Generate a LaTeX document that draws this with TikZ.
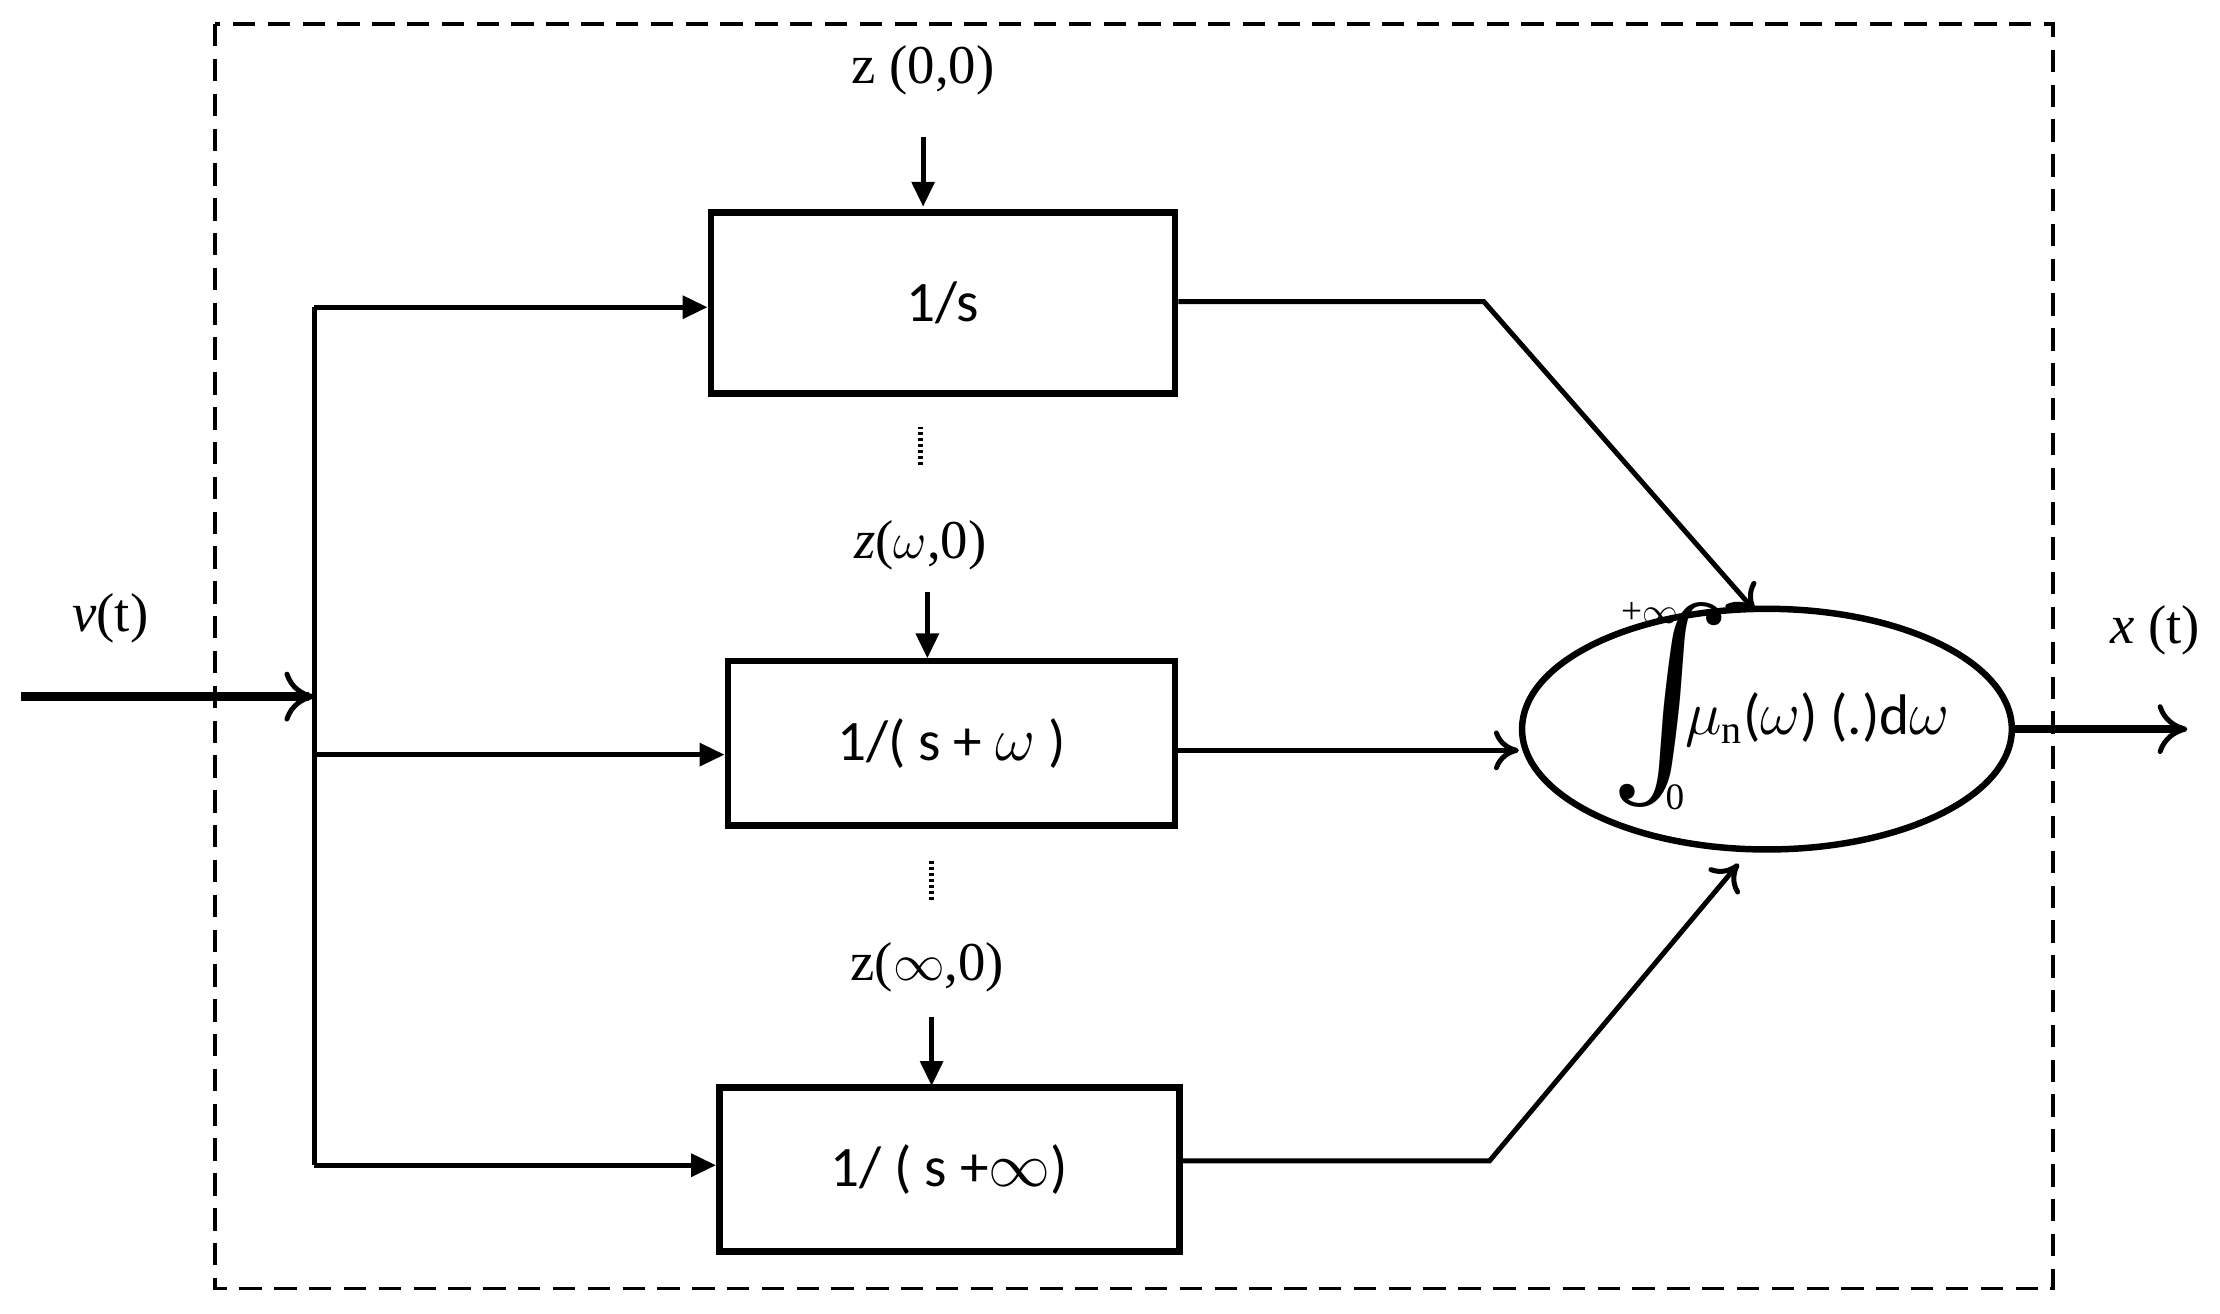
\documentclass[tikz,border=0pt]{standalone}
\usepackage{fontspec}
\setmainfont{Liberation Serif}
\newfontfamily\carl{Carlito}
\usetikzlibrary{arrows.meta,shapes.geometric}
\begin{document}
\begin{tikzpicture}[x=0.02cm,y=-0.02cm,
  ln/.style={line width=2pt},
  fa/.style={ln,-{Triangle[length=10pt,width=9pt]}},
  oa/.style={ln,-{To[length=10pt,width=16pt,line width=2pt]}},
  box/.style={draw,line width=2.6pt,rectangle,minimum width=#1,inner sep=0pt},
  bt/.style={font=\carl\fontsize{23}{25}\selectfont},
  zt/.style={font=\fontsize{22}{24}\selectfont}]
\useasboundingbox (0,0) rectangle (1568,928);
\draw[line width=1.5pt,dash pattern=on 9pt off 5pt] (152,17) rectangle (1450,910);
\node[box=6.56cm,minimum height=2.56cm,bt] (b1) at (666,214) {1/s};
\node[box=6.32cm,minimum height=2.32cm,bt] (b2) at (672,525) {1/( s + $\omega$ )};
\node[box=6.5cm,minimum height=2.32cm,bt] (b3) at (670.5,826) {1/ ( s +$\infty$)};
\node[zt] (z1) at (652,50) {z (0,0)};
\node[zt] (z2) at (650,385) {\textit{z}($\omega$,0)};
\node[zt] (z3) at (655,683) {z($\infty$,0)};
\coordinate (z1a) at (652,97); \coordinate (z1b) at (652,146);
\coordinate (z2a) at (655,418); \coordinate (z2b) at (655,465);
\coordinate (z3a) at (658,718); \coordinate (z3b) at (658,767);
\draw[fa] (z1a) -- (z1b);
\draw[fa] (z2a) -- (z2b);
\draw[fa] (z3a) -- (z3b);
\node[inner sep=0pt,minimum width=4pt,minimum height=0.55cm,path picture={\draw[line width=2pt,dash pattern=on 1.2pt off 1.2pt] (path picture bounding box.north) -- (path picture bounding box.south);}] (d1) at (650,315) {};
\node[inner sep=0pt,minimum width=4pt,minimum height=0.55cm,path picture={\draw[line width=2pt,dash pattern=on 1.2pt off 1.2pt] (path picture bounding box.north) -- (path picture bounding box.south);}] (d2) at (658,622) {};
\node[draw,ellipse,line width=2.6pt,minimum width=6.92cm,minimum height=3.4cm] (e) at (1248,515) {};
\node[inner sep=0pt] (int) at (1180,498) {\resizebox{!}{2.1cm}{$\int$}};
\node[font=\fontsize{15}{16}\selectfont] (up) at (1165,433) {+$\infty$};
\node[font=\fontsize{15}{16}\selectfont] (lo) at (1183,563) {0};
\node[bt,anchor=west,inner sep=0pt] (mu) at (1190,508) {$\mu_{\mathrm{n}}$($\omega$) (.)d$\omega$};
\node[zt] (v) at (78,437) {\textit{v}(t)};
\node[zt] (x) at (1522,445) {\textit{x} (t)};
\coordinate (in) at (15,492); \coordinate (bj) at (222,492);
\draw[line width=3.5pt,-{To[length=12pt,width=20pt,line width=2pt]}] (in) -- (bj);
\coordinate (t) at (222,217); \coordinate (m) at (222,533); \coordinate (bo) at (222,823);
\draw[ln] (t) -- (bo);
\draw[fa] (t) -- (b1.west |- t);
\draw[fa] (m) -- (b2.west |- m);
\draw[fa] (bo) -- (b3.west |- bo);
\coordinate (k1) at (1048,213); \coordinate (k3) at (1052,820);
\coordinate (e1) at (1240,432); \coordinate (e3) at (1228,610);
\draw[oa] (b1.east |- k1) -- (k1) -- (e1);
\draw[oa] (b2.east |- 0,530) -- (e.west |- 0,530);
\draw[oa] (b3.east |- k3) -- (k3) -- (e3);
\coordinate (out) at (1545,515);
\draw[line width=3.5pt,-{To[length=12pt,width=20pt,line width=2pt]}] (e.east) -- (out);
\end{tikzpicture}
\end{document}
